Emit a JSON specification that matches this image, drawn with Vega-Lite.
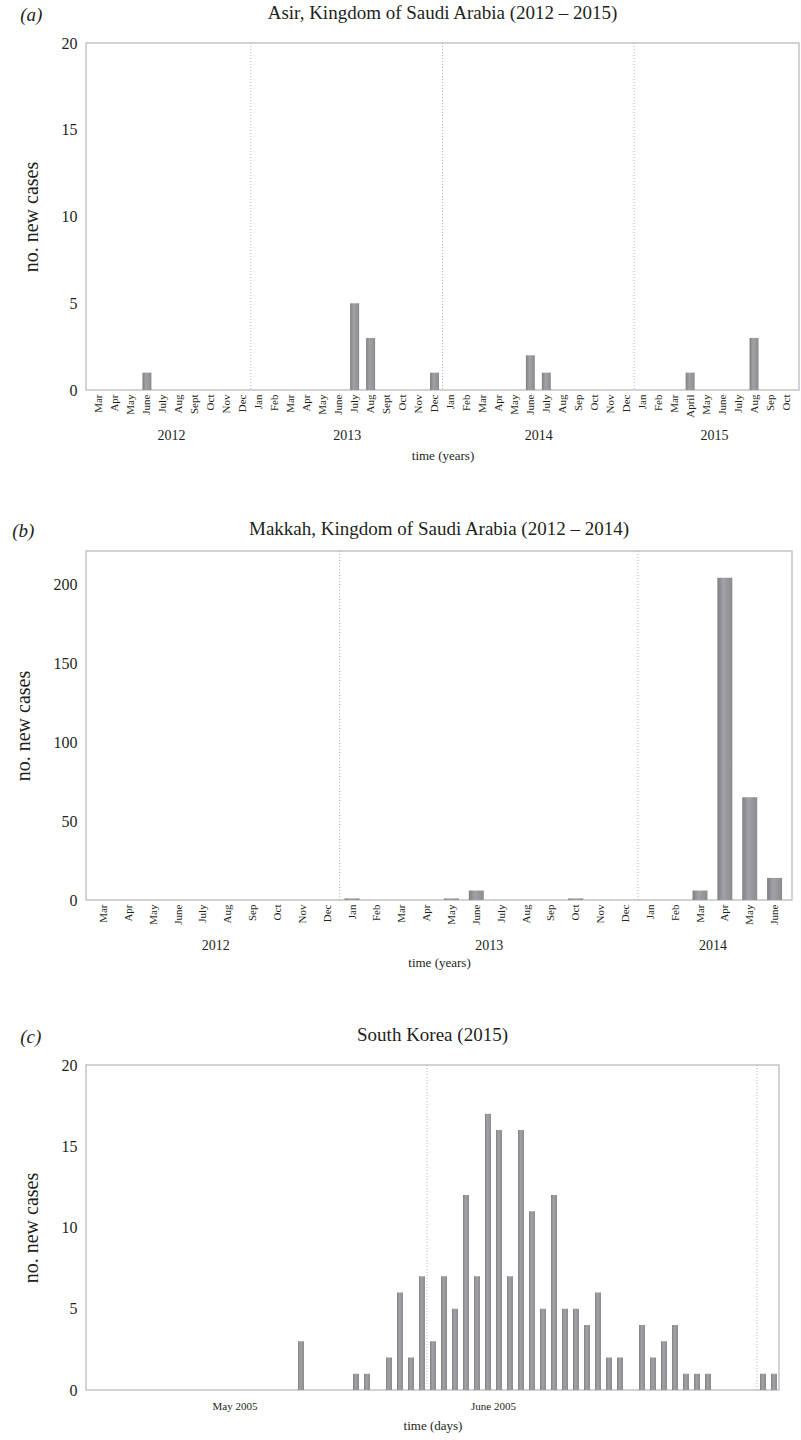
{
  "$schema": "https://vega.github.io/schema/vega-lite/v6.json",
  "padding": {"left": 12, "top": 3, "right": 0, "bottom": 0},
  "config": {
    "font": "Liberation Serif",
    "view": {"stroke": "#c4c4c4", "strokeWidth": 1.5},
    "title": {"fontSize": 19, "fontWeight": "normal", "color": "#231f20", "offset": 12},
    "axis": {
      "labelFont": "Liberation Serif",
      "titleFont": "Liberation Serif",
      "labelColor": "#231f20",
      "titleColor": "#231f20",
      "titleFontWeight": "normal",
      "ticks": false,
      "domain": false,
      "grid": false,
      "labelOverlap": false,
      "labelFlush": false,
      "labelBound": false
    },
    "axisY": {"labelFontSize": 16, "labelPadding": 9, "titleFontSize": 20, "titlePadding": 20},
    "concat": {"spacing": 55}
  },
  "datasets": {
    "asir": [
      {"i": 0, "year": 2012, "month": "Mar", "cases": 0},
      {"i": 1, "year": 2012, "month": "Apr", "cases": 0},
      {"i": 2, "year": 2012, "month": "May", "cases": 0},
      {"i": 3, "year": 2012, "month": "June", "cases": 1},
      {"i": 4, "year": 2012, "month": "July", "cases": 0},
      {"i": 5, "year": 2012, "month": "Aug", "cases": 0},
      {"i": 6, "year": 2012, "month": "Sept", "cases": 0},
      {"i": 7, "year": 2012, "month": "Oct", "cases": 0},
      {"i": 8, "year": 2012, "month": "Nov", "cases": 0},
      {"i": 9, "year": 2012, "month": "Dec", "cases": 0},
      {"i": 10, "year": 2013, "month": "Jan", "cases": 0},
      {"i": 11, "year": 2013, "month": "Feb", "cases": 0},
      {"i": 12, "year": 2013, "month": "Mar", "cases": 0},
      {"i": 13, "year": 2013, "month": "Apr", "cases": 0},
      {"i": 14, "year": 2013, "month": "May", "cases": 0},
      {"i": 15, "year": 2013, "month": "June", "cases": 0},
      {"i": 16, "year": 2013, "month": "July", "cases": 5},
      {"i": 17, "year": 2013, "month": "Aug", "cases": 3},
      {"i": 18, "year": 2013, "month": "Sept", "cases": 0},
      {"i": 19, "year": 2013, "month": "Oct", "cases": 0},
      {"i": 20, "year": 2013, "month": "Nov", "cases": 0},
      {"i": 21, "year": 2013, "month": "Dec", "cases": 1},
      {"i": 22, "year": 2014, "month": "Jan", "cases": 0},
      {"i": 23, "year": 2014, "month": "Feb", "cases": 0},
      {"i": 24, "year": 2014, "month": "Mar", "cases": 0},
      {"i": 25, "year": 2014, "month": "Apr", "cases": 0},
      {"i": 26, "year": 2014, "month": "May", "cases": 0},
      {"i": 27, "year": 2014, "month": "June", "cases": 2},
      {"i": 28, "year": 2014, "month": "July", "cases": 1},
      {"i": 29, "year": 2014, "month": "Aug", "cases": 0},
      {"i": 30, "year": 2014, "month": "Sep", "cases": 0},
      {"i": 31, "year": 2014, "month": "Oct", "cases": 0},
      {"i": 32, "year": 2014, "month": "Nov", "cases": 0},
      {"i": 33, "year": 2014, "month": "Dec", "cases": 0},
      {"i": 34, "year": 2015, "month": "Jan", "cases": 0},
      {"i": 35, "year": 2015, "month": "Feb", "cases": 0},
      {"i": 36, "year": 2015, "month": "Mar", "cases": 0},
      {"i": 37, "year": 2015, "month": "April", "cases": 1},
      {"i": 38, "year": 2015, "month": "May", "cases": 0},
      {"i": 39, "year": 2015, "month": "June", "cases": 0},
      {"i": 40, "year": 2015, "month": "July", "cases": 0},
      {"i": 41, "year": 2015, "month": "Aug", "cases": 3},
      {"i": 42, "year": 2015, "month": "Sep", "cases": 0},
      {"i": 43, "year": 2015, "month": "Oct", "cases": 0}
    ],
    "asirBreaks": [{"boundary": 9.5}, {"boundary": 21.5}, {"boundary": 33.5}],
    "makkah": [
      {"i": 0, "year": 2012, "month": "Mar", "cases": 0},
      {"i": 1, "year": 2012, "month": "Apr", "cases": 0},
      {"i": 2, "year": 2012, "month": "May", "cases": 0},
      {"i": 3, "year": 2012, "month": "June", "cases": 0},
      {"i": 4, "year": 2012, "month": "July", "cases": 0},
      {"i": 5, "year": 2012, "month": "Aug", "cases": 0},
      {"i": 6, "year": 2012, "month": "Sep", "cases": 0},
      {"i": 7, "year": 2012, "month": "Oct", "cases": 0},
      {"i": 8, "year": 2012, "month": "Nov", "cases": 0},
      {"i": 9, "year": 2012, "month": "Dec", "cases": 0},
      {"i": 10, "year": 2013, "month": "Jan", "cases": 1},
      {"i": 11, "year": 2013, "month": "Feb", "cases": 0},
      {"i": 12, "year": 2013, "month": "Mar", "cases": 0},
      {"i": 13, "year": 2013, "month": "Apr", "cases": 0},
      {"i": 14, "year": 2013, "month": "May", "cases": 1},
      {"i": 15, "year": 2013, "month": "June", "cases": 6},
      {"i": 16, "year": 2013, "month": "July", "cases": 0},
      {"i": 17, "year": 2013, "month": "Aug", "cases": 0},
      {"i": 18, "year": 2013, "month": "Sep", "cases": 0},
      {"i": 19, "year": 2013, "month": "Oct", "cases": 1},
      {"i": 20, "year": 2013, "month": "Nov", "cases": 0},
      {"i": 21, "year": 2013, "month": "Dec", "cases": 0},
      {"i": 22, "year": 2014, "month": "Jan", "cases": 0},
      {"i": 23, "year": 2014, "month": "Feb", "cases": 0},
      {"i": 24, "year": 2014, "month": "Mar", "cases": 6},
      {"i": 25, "year": 2014, "month": "Apr", "cases": 204},
      {"i": 26, "year": 2014, "month": "May", "cases": 65},
      {"i": 27, "year": 2014, "month": "June", "cases": 14}
    ],
    "makkahBreaks": [{"boundary": 9.5}, {"boundary": 21.5}],
    "korea": [
      {"date": "2005-05-20", "cases": 3},
      {"date": "2005-05-25", "cases": 1},
      {"date": "2005-05-26", "cases": 1},
      {"date": "2005-05-28", "cases": 2},
      {"date": "2005-05-29", "cases": 6},
      {"date": "2005-05-30", "cases": 2},
      {"date": "2005-05-31", "cases": 7},
      {"date": "2005-06-01", "cases": 3},
      {"date": "2005-06-02", "cases": 7},
      {"date": "2005-06-03", "cases": 5},
      {"date": "2005-06-04", "cases": 12},
      {"date": "2005-06-05", "cases": 7},
      {"date": "2005-06-06", "cases": 17},
      {"date": "2005-06-07", "cases": 16},
      {"date": "2005-06-08", "cases": 7},
      {"date": "2005-06-09", "cases": 16},
      {"date": "2005-06-10", "cases": 11},
      {"date": "2005-06-11", "cases": 5},
      {"date": "2005-06-12", "cases": 12},
      {"date": "2005-06-13", "cases": 5},
      {"date": "2005-06-14", "cases": 5},
      {"date": "2005-06-15", "cases": 4},
      {"date": "2005-06-16", "cases": 6},
      {"date": "2005-06-17", "cases": 2},
      {"date": "2005-06-18", "cases": 2},
      {"date": "2005-06-20", "cases": 4},
      {"date": "2005-06-21", "cases": 2},
      {"date": "2005-06-22", "cases": 3},
      {"date": "2005-06-23", "cases": 4},
      {"date": "2005-06-24", "cases": 1},
      {"date": "2005-06-25", "cases": 1},
      {"date": "2005-06-26", "cases": 1},
      {"date": "2005-07-01", "cases": 1},
      {"date": "2005-07-02", "cases": 1}
    ],
    "koreaBreaks": [{"date": "2005-06-01"}, {"date": "2005-07-01"}]
  },
  "vconcat": [
    {
      "title": {"text": "(a)", "anchor": "start", "frame": "bounds", "fontStyle": "italic", "offset": -22},
      "vconcat": [
        {
          "width": 713,
          "height": 347,
          "title": "Asir, Kingdom of Saudi Arabia (2012 – 2015)",
          "resolve": {"axis": {"x": "independent"}},
          "layer": [
            {
              "data": {"name": "asirBreaks"},
              "mark": {"type": "rule", "color": "#b8b8b8", "strokeDash": [1, 2], "strokeWidth": 1},
              "encoding": {
                "x": {
                  "field": "boundary",
                  "type": "quantitative",
                  "scale": {"domain": [-0.5, 43.5], "nice": false, "zero": false},
                  "axis": {
                    "orient": "bottom",
                    "values": [4.5, 15.5, 27.5, 38.5],
                    "labelExpr": "datum.value < 10 ? '2012' : datum.value < 22 ? '2013' : datum.value < 34 ? '2014' : '2015'",
                    "offset": 38,
                    "labelPadding": 0,
                    "labelFontSize": 14,
                    "titleFontSize": 13,
                    "titlePadding": 7,
                    "title": "time (years)"
                  }
                }
              }
            },
            {
              "data": {"name": "asir"},
              "mark": {
                "type": "bar",
                "size": 9,
                "color": {"gradient": "linear", "x1": 0, "x2": 1, "y1": 0, "y2": 0,
                  "stops": [{"offset": 0, "color": "#808084"}, {"offset": 0.4, "color": "#a2a2a6"}, {"offset": 1, "color": "#8c8c90"}]}
              },
              "encoding": {
                "x": {
                  "field": "i",
                  "type": "quantitative",
                  "axis": {
                    "orient": "bottom",
                    "values": [0,1,2,3,4,5,6,7,8,9,10,11,12,13,14,15,16,17,18,19,20,21,22,23,24,25,26,27,28,29,30,31,32,33,34,35,36,37,38,39,40,41,42,43],
                    "labelExpr": "['Mar','Apr','May','June','July','Aug','Sept','Oct','Nov','Dec','Jan','Feb','Mar','Apr','May','June','July','Aug','Sept','Oct','Nov','Dec','Jan','Feb','Mar','Apr','May','June','July','Aug','Sep','Oct','Nov','Dec','Jan','Feb','Mar','April','May','June','July','Aug','Sep','Oct'][datum.value]",
                    "labelAngle": 270,
                    "labelAlign": "right",
                    "labelBaseline": "middle",
                    "labelFontSize": 11,
                    "labelPadding": 4,
                    "title": null
                  }
                },
                "y": {
                  "field": "cases",
                  "type": "quantitative",
                  "scale": {"domain": [0, 20]},
                  "axis": {"values": [0, 5, 10, 15, 20], "title": "no. new cases"}
                }
              }
            }
          ]
        }
      ]
    },
    {
      "title": {"text": "(b)", "anchor": "start", "frame": "bounds", "fontStyle": "italic", "offset": -22},
      "vconcat": [
        {
          "width": 706,
          "height": 349,
          "title": "Makkah, Kingdom of Saudi Arabia (2012 – 2014)",
          "resolve": {"axis": {"x": "independent"}},
          "layer": [
            {
              "data": {"name": "makkahBreaks"},
              "mark": {"type": "rule", "color": "#b8b8b8", "strokeDash": [1, 2], "strokeWidth": 1},
              "encoding": {
                "x": {
                  "field": "boundary",
                  "type": "quantitative",
                  "scale": {"domain": [-0.5, 27.5], "nice": false, "zero": false},
                  "axis": {
                    "orient": "bottom",
                    "values": [4.5, 15.5, 24.5],
                    "labelExpr": "datum.value < 10 ? '2012' : datum.value < 22 ? '2013' : '2014'",
                    "offset": 38,
                    "labelPadding": 0,
                    "labelFontSize": 14,
                    "titleFontSize": 13,
                    "titlePadding": 4,
                    "title": "time (years)"
                  }
                }
              }
            },
            {
              "data": {"name": "makkah"},
              "mark": {
                "type": "bar",
                "size": 15,
                "color": {"gradient": "linear", "x1": 0, "x2": 1, "y1": 0, "y2": 0,
                  "stops": [{"offset": 0, "color": "#808084"}, {"offset": 0.4, "color": "#a2a2a6"}, {"offset": 1, "color": "#8c8c90"}]}
              },
              "encoding": {
                "x": {
                  "field": "i",
                  "type": "quantitative",
                  "axis": {
                    "orient": "bottom",
                    "values": [0,1,2,3,4,5,6,7,8,9,10,11,12,13,14,15,16,17,18,19,20,21,22,23,24,25,26,27],
                    "labelExpr": "['Mar','Apr','May','June','July','Aug','Sep','Oct','Nov','Dec','Jan','Feb','Mar','Apr','May','June','July','Aug','Sep','Oct','Nov','Dec','Jan','Feb','Mar','Apr','May','June'][datum.value]",
                    "labelAngle": 270,
                    "labelAlign": "right",
                    "labelBaseline": "middle",
                    "labelFontSize": 11,
                    "labelPadding": 4,
                    "title": null
                  }
                },
                "y": {
                  "field": "cases",
                  "type": "quantitative",
                  "scale": {"domain": [0, 221], "nice": false},
                  "axis": {"values": [0, 50, 100, 150, 200], "title": "no. new cases"}
                }
              }
            }
          ]
        }
      ]
    },
    {
      "title": {"text": "(c)", "anchor": "start", "frame": "bounds", "fontStyle": "italic", "offset": -22},
      "vconcat": [
        {
          "width": 693,
          "height": 325,
          "title": "South Korea (2015)",
          "layer": [
            {
              "data": {"name": "koreaBreaks"},
              "mark": {"type": "rule", "color": "#b8b8b8", "strokeDash": [1, 2], "strokeWidth": 1},
              "encoding": {
                "x": {
                  "field": "date",
                  "type": "temporal",
                  "scale": {
                    "type": "utc",
                    "domain": [
                      {"year": 2005, "month": 5, "date": 1, "utc": true},
                      {"year": 2005, "month": 7, "date": 3, "utc": true}
                    ]
                  },
                  "axis": {
                    "values": [
                      {"year": 2005, "month": 5, "date": 14, "hours": 12, "utc": true},
                      {"year": 2005, "month": 6, "date": 7, "utc": true}
                    ],
                    "labelExpr": "utcFormat(datum.value, '%B %Y')",
                    "labelFontSize": 11,
                    "labelPadding": 10,
                    "titleFontSize": 13,
                    "titlePadding": 8,
                    "title": "time (days)"
                  }
                }
              }
            },
            {
              "data": {"name": "korea"},
              "mark": {
                "type": "bar",
                "width": {"band": 0.64},
                "color": {"gradient": "linear", "x1": 0, "x2": 1, "y1": 0, "y2": 0,
                  "stops": [{"offset": 0, "color": "#808084"}, {"offset": 0.4, "color": "#a2a2a6"}, {"offset": 1, "color": "#8c8c90"}]}
              },
              "encoding": {
                "x": {"field": "date", "type": "temporal", "timeUnit": "utcyearmonthdate"},
                "y": {
                  "field": "cases",
                  "type": "quantitative",
                  "scale": {"domain": [0, 20]},
                  "axis": {"values": [0, 5, 10, 15, 20], "title": "no. new cases"}
                }
              }
            }
          ]
        }
      ]
    }
  ]
}
